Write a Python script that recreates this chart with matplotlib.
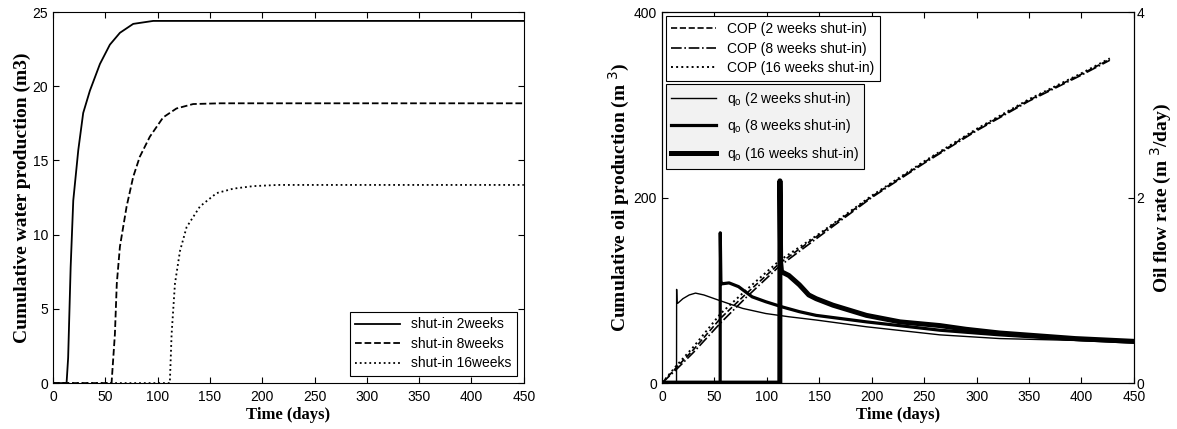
import matplotlib
matplotlib.use('Agg')
import matplotlib.pyplot as plt
import numpy as np

plt.rcParams['font.family'] = 'Liberation Sans'
plt.rcParams['font.size'] = 10

# cumulative water production (m3) after shut-in
t_w2 = [0, 13, 14.5, 16.9, 19.4, 24.2, 28.9, 35.3, 44.9, 54.4, 64, 76.7, 95.8, 120, 450]
w_2wk = [0, 0, 1.7, 7.8, 12.3, 15.7, 18.2, 19.7, 21.5, 22.8, 23.6, 24.2, 24.4, 24.4, 24.4]
t_w8 = [0, 56, 59.2, 61, 64, 70.4, 76.7, 83, 92.6, 105.3, 118, 134, 160, 450]
w_8wk = [0, 0, 3.3, 6.7, 9.2, 11.9, 13.9, 15.25, 16.6, 17.9, 18.5, 18.8, 18.85, 18.85]
t_w16 = [0, 111.7, 113.4, 116.6, 121.4, 127.7, 140.5, 156.4, 172.4, 191.5, 215, 450]
w_16wk = [0, 0, 3.3, 6.7, 8.9, 10.5, 11.9, 12.8, 13.1, 13.27, 13.35, 13.35]

# cumulative oil production (m3)
t_cop = [0, 14, 30, 56, 80, 112, 150, 200, 250, 300, 350, 400, 427]
cop_2wk = [0, 17, 36, 70, 96, 129, 160, 201, 238, 273, 305, 333, 349]
cop_8wk = [0, 15, 33, 65, 92, 126, 158, 200, 237, 272, 304, 332, 348]
cop_16wk = [0, 19, 39, 75, 100, 132, 161, 202, 239, 274, 306, 334, 350]

# oil rate (m3/day)
t_q2 = [0, 13.9, 14, 14.3, 15, 20, 26, 32, 40, 55, 77, 99, 121, 147, 195, 265, 322, 394, 450]
q_2wk = [0, 0, 1.01, 0.86, 0.86, 0.91, 0.95, 0.97, 0.95, 0.89, 0.805, 0.75, 0.715, 0.68, 0.607, 0.52, 0.48, 0.46, 0.43]
t_q8 = [0, 55.5, 55.6, 56.2, 57, 64, 73, 86, 99, 115, 131, 147, 195, 265, 322, 394, 450]
q_8wk = [0, 0, 1.62, 1.1, 1.07, 1.08, 1.04, 0.93, 0.877, 0.82, 0.77, 0.73, 0.66, 0.57, 0.52, 0.47, 0.45]
t_q16 = [0, 112.4, 112.5, 113.2, 114, 121, 131, 140, 147, 163, 195, 227, 265, 290, 322, 394, 450]
q_16wk = [0, 0, 2.18, 1.3, 1.2, 1.16, 1.06, 0.95, 0.91, 0.84, 0.73, 0.66, 0.62, 0.58, 0.54, 0.48, 0.45]

xticks = np.arange(0, 451, 50)
xfont = dict(family='Liberation Serif', weight='bold', size=12)
yfont = dict(family='Liberation Serif', weight='bold', size=14)


def matlab_box(ax):
    ax.tick_params(axis='both', which='major', direction='in', length=4,
                   top=True, labelsize=10)
    ax.tick_params(axis='x', pad=5)
    for s in ax.spines.values():
        s.set_linewidth(0.8)


fig = plt.figure(figsize=(11.77, 4.29), dpi=100)

# left: water
ax = fig.add_axes([0.045, 0.107, 0.400, 0.865])
ax.plot(t_w2, w_2wk, 'k-', lw=1.3, label='shut-in 2weeks')
ax.plot(t_w8, w_8wk, 'k--', lw=1.3, label='shut-in 8weeks')
ax.plot(t_w16, w_16wk, 'k:', lw=1.3, label='shut-in 16weeks')
ax.set_xlim(0, 450)
ax.set_ylim(0, 25)
ax.set_xticks(xticks)
ax.set_yticks(np.arange(0, 26, 5))
matlab_box(ax)
ax.tick_params(right=True)
ax.set_xlabel('Time (days)', fontdict=xfont, labelpad=2)
ax.set_ylabel('Cumulative water production (m3)', fontdict=yfont, labelpad=1)
leg = ax.legend(loc='lower right', bbox_to_anchor=(0.985, 0.019), borderaxespad=0,
                fancybox=False, edgecolor='k', framealpha=1, handlelength=3.2,
                fontsize=10, labelspacing=0.4)
leg.get_frame().set_linewidth(0.8)

# right: oil
ax1 = fig.add_axes([0.5624, 0.107, 0.401, 0.865])
ax1.plot(t_cop, cop_2wk, color='k', ls='--', lw=1.2, label='COP (2 weeks shut-in)')
ax1.plot(t_cop, cop_8wk, color='k', ls='-.', lw=1.2, label='COP (8 weeks shut-in)')
ax1.plot(t_cop, cop_16wk, color='k', ls=':', lw=1.4, label='COP (16 weeks shut-in)')
ax1.set_xlim(0, 450)
ax1.set_ylim(0, 400)
ax1.set_xticks(xticks)
ax1.set_yticks([0, 200, 400])
matlab_box(ax1)
ax1.set_xlabel('Time (days)', fontdict=xfont, labelpad=2)
ax1.set_ylabel('Cumulative oil production (m$^{\\ 3}$)', fontdict=yfont, labelpad=1)

ax2 = ax1.twinx()
ax2.plot(t_q2, q_2wk, 'k-', lw=1.0, label='q$_\\mathregular{o}$ (2 weeks shut-in)')
ax2.plot(t_q8, q_8wk, 'k-', lw=2.3, label='q$_\\mathregular{o}$ (8 weeks shut-in)')
ax2.plot(t_q16, q_16wk, 'k-', lw=3.6, label='q$_\\mathregular{o}$ (16 weeks shut-in)')
ax2.set_ylim(0, 4)
ax2.set_yticks([0, 2, 4])
ax2.tick_params(axis='y', direction='in', length=4, labelsize=10, pad=2)
ax2.set_ylabel('Oil flow rate (m$^{\\ 3}$/day)', fontdict=yfont, labelpad=3)

leg1 = ax1.legend(loc='upper left', bbox_to_anchor=(0.008, 0.988), borderaxespad=0,
                  fancybox=False, edgecolor='k', framealpha=1, handlelength=3.2,
                  fontsize=10, labelspacing=0.4)
leg1.get_frame().set_linewidth(0.8)
leg2 = ax2.legend(loc='upper left', bbox_to_anchor=(0.008, 0.806), borderaxespad=0,
                  fancybox=False, edgecolor='k', facecolor='#f2f2f2', framealpha=1,
                  handlelength=3.2, fontsize=10, labelspacing=0.7)
leg2.get_frame().set_linewidth(0.8)

fig.savefig('out.png', dpi=100)
